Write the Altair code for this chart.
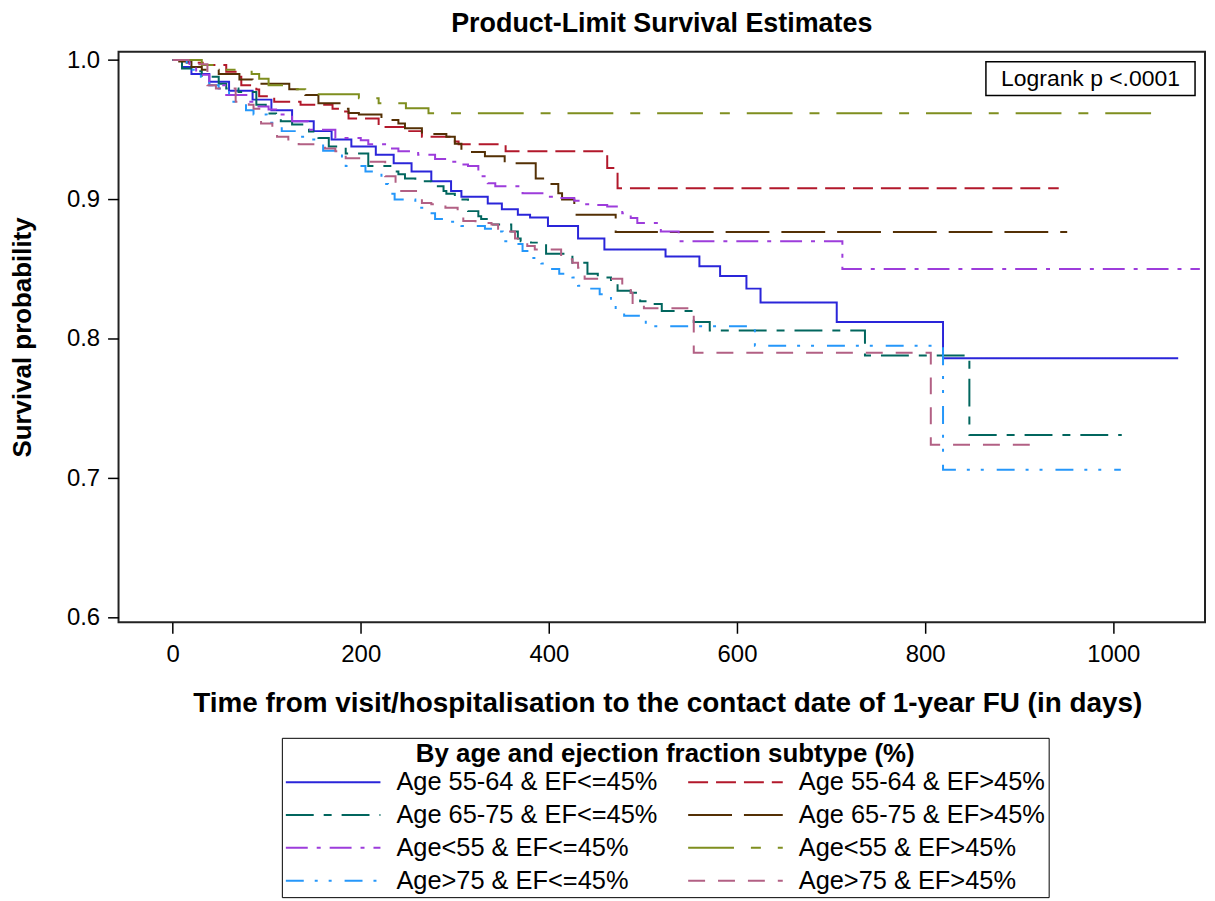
import altair as alt
import pandas as pd

FONT = "Arial, 'Liberation Sans', sans-serif"

GROUPS = ["Age 55-64 & EF<=45%", "Age 55-64 & EF>45%",
          "Age 65-75 & EF<=45%", "Age 65-75 & EF>45%",
          "Age<55 & EF<=45%", "Age<55 & EF>45%",
          "Age>75 & EF<=45%", "Age>75 & EF>45%"]
COLORS = ["#2A25D9", "#B2182B", "#01665E", "#543005",
          "#9D3CDB", "#7F8E1F", "#2597FA", "#B26084"]
DASHES = [[1, 0], [20, 8], [28, 10, 8, 10], [44, 12],
          [22, 9, 4, 9], [46, 17, 10, 17], [18, 11, 3, 11, 3, 13], [17, 13]]

X_TICKS = [0, 200, 400, 600, 800, 1000]
Y_TICKS = [0.6, 0.7, 0.8, 0.9, 1.0]

# Age 55-64 & EF<=45%
T_5564_LO = [0, 10, 20, 39, 60, 85, 105, 127, 150, 169, 190, 216, 235, 254, 275, 296, 307, 335, 350, 367,
             380, 399, 431, 459, 524, 560, 582, 610, 625, 706, 819, 1069]
S_5564_LO = [1.0, 0.995, 0.99, 0.9845, 0.978, 0.9716, 0.964, 0.956, 0.949, 0.943, 0.938, 0.932, 0.926, 0.92,
             0.913, 0.906, 0.902, 0.897, 0.893, 0.889, 0.887, 0.881, 0.872, 0.864, 0.859, 0.852, 0.845, 0.836,
             0.826, 0.812, 0.786, 0.786]
# Age 55-64 & EF>45%
T_5564_HI = [0, 15, 32, 57, 70, 73, 89, 92, 108, 136, 170, 177, 187, 219, 247, 265, 300, 304, 354, 462, 473, 942]
S_5564_HI = [1.0, 0.998, 0.9964, 0.9916, 0.988, 0.982, 0.9788, 0.974, 0.970, 0.968, 0.965, 0.963, 0.958, 0.952,
             0.949, 0.945, 0.9416, 0.9395, 0.9345, 0.9225, 0.908, 0.908]
# Age 65-75 & EF<=45%
T_6575_LO = [0, 10, 21, 31, 49, 57, 70, 89, 99, 110, 115, 127, 145, 155, 166, 184, 208, 233, 240, 247,
             258, 275, 288, 291, 300, 314, 325, 328, 339, 360, 367, 370, 381, 397, 425, 441, 452, 466, 473, 487,
             494, 497, 508, 520, 554, 571, 736, 847, 1009]
S_6575_LO = [1.0, 0.994, 0.992, 0.988, 0.983, 0.9795, 0.977, 0.968, 0.9616, 0.958, 0.956, 0.9537, 0.9488, 0.944,
             0.938, 0.933, 0.924, 0.920, 0.918, 0.915, 0.913, 0.9095, 0.906, 0.904, 0.900, 0.8916, 0.888, 0.886,
             0.882, 0.877, 0.872, 0.870, 0.869, 0.861, 0.8545, 0.8466, 0.844, 0.840, 0.8345, 0.833, 0.829, 0.827,
             0.825, 0.820, 0.812, 0.806, 0.788, 0.731, 0.731]
# Age 65-75 & EF>45%
T_6575_HI = [0, 7, 20, 31, 49, 71, 85, 124, 141, 155, 179, 187, 198, 222, 240, 247, 265, 291, 300, 307,
             332, 353, 386, 395, 410, 414, 427, 471, 951]
S_6575_HI = [1.0, 0.999, 0.995, 0.993, 0.990, 0.986, 0.983, 0.979, 0.975, 0.969, 0.965, 0.962, 0.961, 0.957,
             0.9545, 0.951, 0.947, 0.945, 0.940, 0.934, 0.931, 0.926, 0.915, 0.911, 0.9045, 0.900, 0.889,
             0.8766, 0.8766]
# Age<55 & EF<=45%
T_U55_LO = [0, 18, 25, 39, 57, 81, 88, 102, 110, 127, 144, 173, 200, 208, 229, 240, 261, 279, 295, 303,
            314, 325, 335, 343, 372, 395, 409, 427, 438, 449, 462, 478, 487, 494, 519, 538, 712, 1092]
S_U55_LO = [1.0, 0.994, 0.9895, 0.982, 0.975, 0.970, 0.9666, 0.9645, 0.961, 0.956, 0.950, 0.944, 0.9425, 0.9395,
            0.9366, 0.9345, 0.932, 0.929, 0.927, 0.925, 0.924, 0.9166, 0.9116, 0.9094, 0.9045, 0.902, 0.901,
            0.899, 0.8966, 0.896, 0.895, 0.890, 0.8866, 0.883, 0.877, 0.870, 0.850, 0.850]
# Age<55 & EF>45%
T_U55_HI = [0, 31, 52, 84, 92, 102, 126, 141, 198, 219, 248, 272, 1045]
S_U55_HI = [1.0, 0.9965, 0.993, 0.990, 0.9866, 0.982, 0.979, 0.9755, 0.9725, 0.969, 0.9654, 0.9618, 0.9618]
# Age>75 & EF<=45%
T_O75_LO = [0, 15, 30, 39, 49, 60, 78, 86, 100, 116, 131, 141, 160, 180, 184, 205, 222, 229, 236, 258,
            261, 270, 279, 296, 307, 332, 346, 351, 364, 372, 381, 392, 400, 411, 425, 431, 445, 454, 466, 471,
            480, 503, 619, 819, 1008]
S_O75_LO = [1.0, 0.993, 0.988, 0.982, 0.9795, 0.970, 0.964, 0.961, 0.955, 0.949, 0.945, 0.943, 0.935, 0.926,
            0.924, 0.920, 0.911, 0.904, 0.900, 0.8966, 0.894, 0.890, 0.886, 0.884, 0.881, 0.879, 0.877, 0.870,
            0.868, 0.863, 0.858, 0.854, 0.850, 0.8466, 0.844, 0.838, 0.836, 0.832, 0.827, 0.821, 0.8165, 0.809,
            0.795, 0.706, 0.706]
# Age>75 & EF>45%
T_O75_HI = [0, 18, 37, 46, 67, 81, 86, 94, 106, 111, 123, 134, 162, 173, 184, 201, 226, 237, 243, 265,
            275, 290, 303, 309, 322, 339, 346, 354, 364, 377, 385, 413, 425, 431, 438, 478, 487, 489, 501, 554,
            806, 912]
S_O75_HI = [1.0, 0.997, 0.982, 0.9795, 0.970, 0.968, 0.965, 0.9545, 0.952, 0.945, 0.943, 0.9395, 0.9366, 0.9345,
            0.9295, 0.927, 0.9166, 0.911, 0.906, 0.8975, 0.8966, 0.894, 0.8916, 0.8845, 0.883, 0.882, 0.879,
            0.877, 0.872, 0.8666, 0.864, 0.857, 0.8545, 0.851, 0.843, 0.8366, 0.833, 0.824, 0.822, 0.790,
            0.724, 0.724]

SERIES = [
    (GROUPS[0], T_5564_LO, S_5564_LO),
    (GROUPS[1], T_5564_HI, S_5564_HI),
    (GROUPS[2], T_6575_LO, S_6575_LO),
    (GROUPS[3], T_6575_HI, S_6575_HI),
    (GROUPS[4], T_U55_LO, S_U55_LO),
    (GROUPS[5], T_U55_HI, S_U55_HI),
    (GROUPS[6], T_O75_LO, S_O75_LO),
    (GROUPS[7], T_O75_HI, S_O75_HI),
]

rows = []
for g, ts, ss in SERIES:
    for t, s in zip(ts, ss):
        rows.append({"group": g, "time": t, "surv": s})
df = pd.DataFrame(rows)

# the legend fills column by column: put the "<=45%" groups in column 1, ">45%" in column 2
ORDER = [0, 2, 4, 6, 1, 3, 5, 7]
LEG_DOMAIN = [GROUPS[i] for i in ORDER]
LEG_COLORS = [COLORS[i] for i in ORDER]
LEG_DASHES = [DASHES[i] for i in ORDER]

LEGEND_TITLE = "By age and ejection fraction subtype (%)"
legend = alt.Legend(
    orient="none", legendX=164, legendY=689, columns=2,
    symbolType="stroke", symbolSize=9025, symbolStrokeWidth=2, clipHeight=27,
    rowPadding=6, columnPadding=29, labelOffset=15,
    labelFontSize=25.5, labelFont=FONT, labelColor="black", labelLimit=400,
    titleFontSize=26, titleFont=FONT, titleFontWeight="bold", titleColor="black",
    titleAnchor="middle", titleLimit=900, titlePadding=2,
    strokeColor="black", fillColor="white", padding=3,
)

lines = alt.Chart(df).mark_line(interpolate="step-after", strokeWidth=2, clip=True).encode(
    x=alt.X("time:Q",
            scale=alt.Scale(domain=[-57.5, 1097.5], nice=False, zero=False),
            axis=alt.Axis(values=X_TICKS, format="d",
                          title="Time from visit/hospitalisation to the contact date of 1-year FU (in days)",
                          titleX=551, titleY=82, titleBaseline="middle", titleFontSize=28,
                          labelPadding=9)),
    y=alt.Y("surv:Q",
            scale=alt.Scale(domain=[0.5966, 1.006], nice=False, zero=False),
            axis=alt.Axis(values=Y_TICKS, format=".1f", title="Survival probability",
                          titleX=-96, titleBaseline="middle", titleFontSize=26, labelPadding=8)),
    color=alt.Color("group:N", scale=alt.Scale(domain=LEG_DOMAIN, range=LEG_COLORS),
                    title=LEGEND_TITLE, legend=legend),
    strokeDash=alt.StrokeDash("group:N", scale=alt.Scale(domain=LEG_DOMAIN, range=LEG_DASHES),
                              title=LEGEND_TITLE, legend=legend),
    order=alt.Order("time:Q"),
)

note = pd.DataFrame({"label": ["Logrank p <.0001"]})
box = alt.Chart(note).mark_rect(fill="white", stroke="black", strokeWidth=1.5).encode(
    x=alt.value(871), x2=alt.value(1081), y=alt.value(10), y2=alt.value(44)
)
txt = alt.Chart(note).mark_text(fontSize=23, font=FONT, color="black", align="center",
                                baseline="middle").encode(
    x=alt.value(976), y=alt.value(27), text="label:N"
)

chart = alt.layer(lines, box, txt).properties(
    width=1091, height=573,
    padding={"left": 111, "top": 42, "right": 2, "bottom": 277},
    autosize=alt.AutoSizeParams(type="none"),
    title=alt.Title("Product-Limit Survival Estimates", fontSize=27, font=FONT, fontWeight="bold",
                    anchor="middle", color="black", offset=10),
).configure_view(
    stroke="#222", strokeWidth=2
).configure_axis(
    grid=False, domain=False, tickColor="black", tickSize=11, tickWidth=1.5,
    labelFontSize=24, labelFont=FONT, labelColor="black",
    titleFontSize=28, titleFont=FONT, titleFontWeight="bold", titleColor="black",
)

chart.save("out.html", embed_options={"renderer": "svg", "actions": False})
